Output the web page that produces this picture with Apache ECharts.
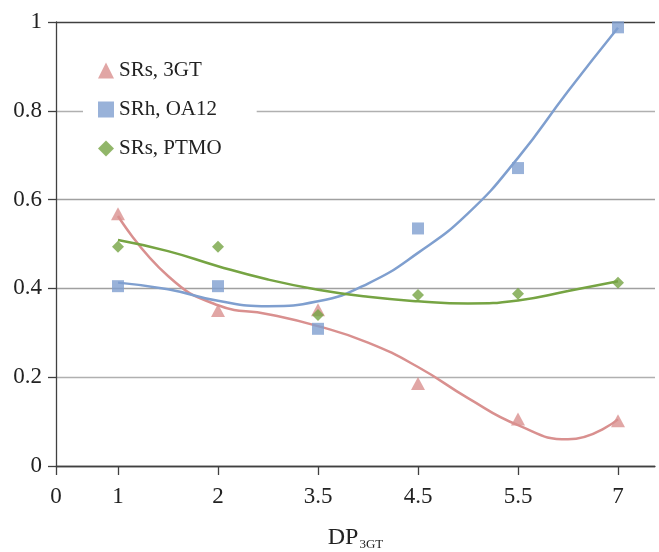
<!DOCTYPE html>
<html>
<head>
<meta charset="utf-8">
<script src="https://cdn.jsdelivr.net/npm/echarts@6/dist/echarts.min.js"></script>
<style>html,body{margin:0;padding:0;background:#fff}#c{width:659px;height:552px}</style>
</head>
<body>
<div id="c"></div>
<script>
// x categories (shown evenly spaced, index 1..6), axis start label
const categories = ['1', '2', '3.5', '4.5', '5.5', '7'];
const axisStartLabel = '0';
const catIndex = [1, 2, 3, 4, 5, 6];

// measured points
const sr3GT   = [0.568, 0.350, 0.352, 0.186, 0.106, 0.102];
const srhOA12 = [0.405, 0.405, 0.309, 0.535, 0.671, 0.988];
const srsPTMO = [0.494, 0.494, 0.340, 0.385, 0.388, 0.413];

// trend curves (x in category-index units)
const trendX    = [1, 1.5, 2, 2.5, 3, 3.5, 4, 4.5, 5, 5.5, 6];
const trend3GT  = [0.563, 0.428, 0.362, 0.342, 0.315, 0.278, 0.223, 0.153, 0.092, 0.060, 0.105];
const trendOA12 = [0.413, 0.398, 0.372, 0.360, 0.371, 0.411, 0.480, 0.569, 0.694, 0.844, 0.987];
const trendPTMO = [0.509, 0.484, 0.450, 0.420, 0.397, 0.381, 0.371, 0.366, 0.373, 0.394, 0.416];

const names = ['SRs, 3GT', 'SRh, OA12', 'SRs, PTMO'];
const colors = ['#d9908f', '#7f9fcf', '#76a443'];
const FONT = 'Liberation Serif';
const X_MIN = 0.38, X_MAX = 6.37;

const pts = arr => arr.map((v, i) => [catIndex[i], v]);
const tr = arr => arr.map((v, i) => [trendX[i], v]);

const chart = echarts.init(document.getElementById('c'), null, {renderer: 'canvas'});
const tickVals = [X_MIN].concat(catIndex);

chart.setOption({
  animation: false,
  grid: {left: 56, right: 4, top: 22, bottom: 86, containLabel: false, outerBoundsMode: 'none'},
  xAxis: {
    type: 'value', min: X_MIN, max: X_MAX,
    axisLine: {show: true, lineStyle: {color: '#404040', width: 1.3}},
    axisTick: {show: true, length: 9, customValues: tickVals, lineStyle: {color: '#404040', width: 1.3}},
    axisLabel: {
      customValues: tickVals, margin: 19,
      fontFamily: FONT, fontSize: 23, color: '#222',
      formatter: v => (v < 0.9 ? axisStartLabel : categories[Math.round(v) - 1])
    },
    splitLine: {show: false},
    name: '{a|DP}{b|3GT}', nameLocation: 'middle', nameGap: 58,
    nameTextStyle: {
      rich: {
        a: {fontFamily: FONT, fontSize: 24, color: '#222'},
        b: {fontFamily: FONT, fontSize: 13, color: '#222', padding: [14, 0, 0, 1]}
      }
    }
  },
  yAxis: {
    type: 'value', min: 0, max: 1, interval: 0.2,
    axisLine: {show: true, lineStyle: {color: '#404040', width: 1.3}},
    axisTick: {show: true, length: 8, lineStyle: {color: '#404040', width: 1.3}},
    axisLabel: {margin: 14, fontFamily: FONT, fontSize: 23, color: '#222'},
    splitLine: {show: true, lineStyle: {color: ['#404040', '#b0b0b0', '#a0a0a0', '#a0a0a0', '#b0b0b0', '#404040'], width: 1.3}}
  },
  legend: {
    data: names, orient: 'vertical', left: 83, top: 47,
    backgroundColor: '#fff', padding: [10, 35, 10, 15], itemGap: 12,
    itemWidth: 16, itemHeight: 16,
    textStyle: {fontFamily: FONT, fontSize: 21, color: '#222', lineHeight: 27}
  },
  series: [
    {name: names[0] + ' trend', type: 'line', data: tr(trend3GT), smooth: 0.5, showSymbol: false, symbol: 'none',
     lineStyle: {color: colors[0], width: 2.5}, itemStyle: {color: colors[0]}, z: 2},
    {name: names[1] + ' trend', type: 'line', data: tr(trendOA12), smooth: 0.5, showSymbol: false, symbol: 'none',
     lineStyle: {color: colors[1], width: 2.5}, itemStyle: {color: colors[1]}, z: 2},
    {name: names[2] + ' trend', type: 'line', data: tr(trendPTMO), smooth: 0.5, showSymbol: false, symbol: 'none',
     lineStyle: {color: colors[2], width: 2.5}, itemStyle: {color: colors[2]}, z: 2},
    {name: names[0], type: 'scatter', data: pts(sr3GT), symbol: 'triangle', symbolSize: [14, 13],
     itemStyle: {color: colors[0]}, z: 3},
    {name: names[1], type: 'scatter', data: pts(srhOA12), symbol: 'rect', symbolSize: 12,
     itemStyle: {color: colors[1]}, z: 3},
    {name: names[2], type: 'scatter', data: pts(srsPTMO), symbol: 'diamond', symbolSize: 12,
     itemStyle: {color: colors[2]}, z: 3}
  ]
});
</script>
</body>
</html>
